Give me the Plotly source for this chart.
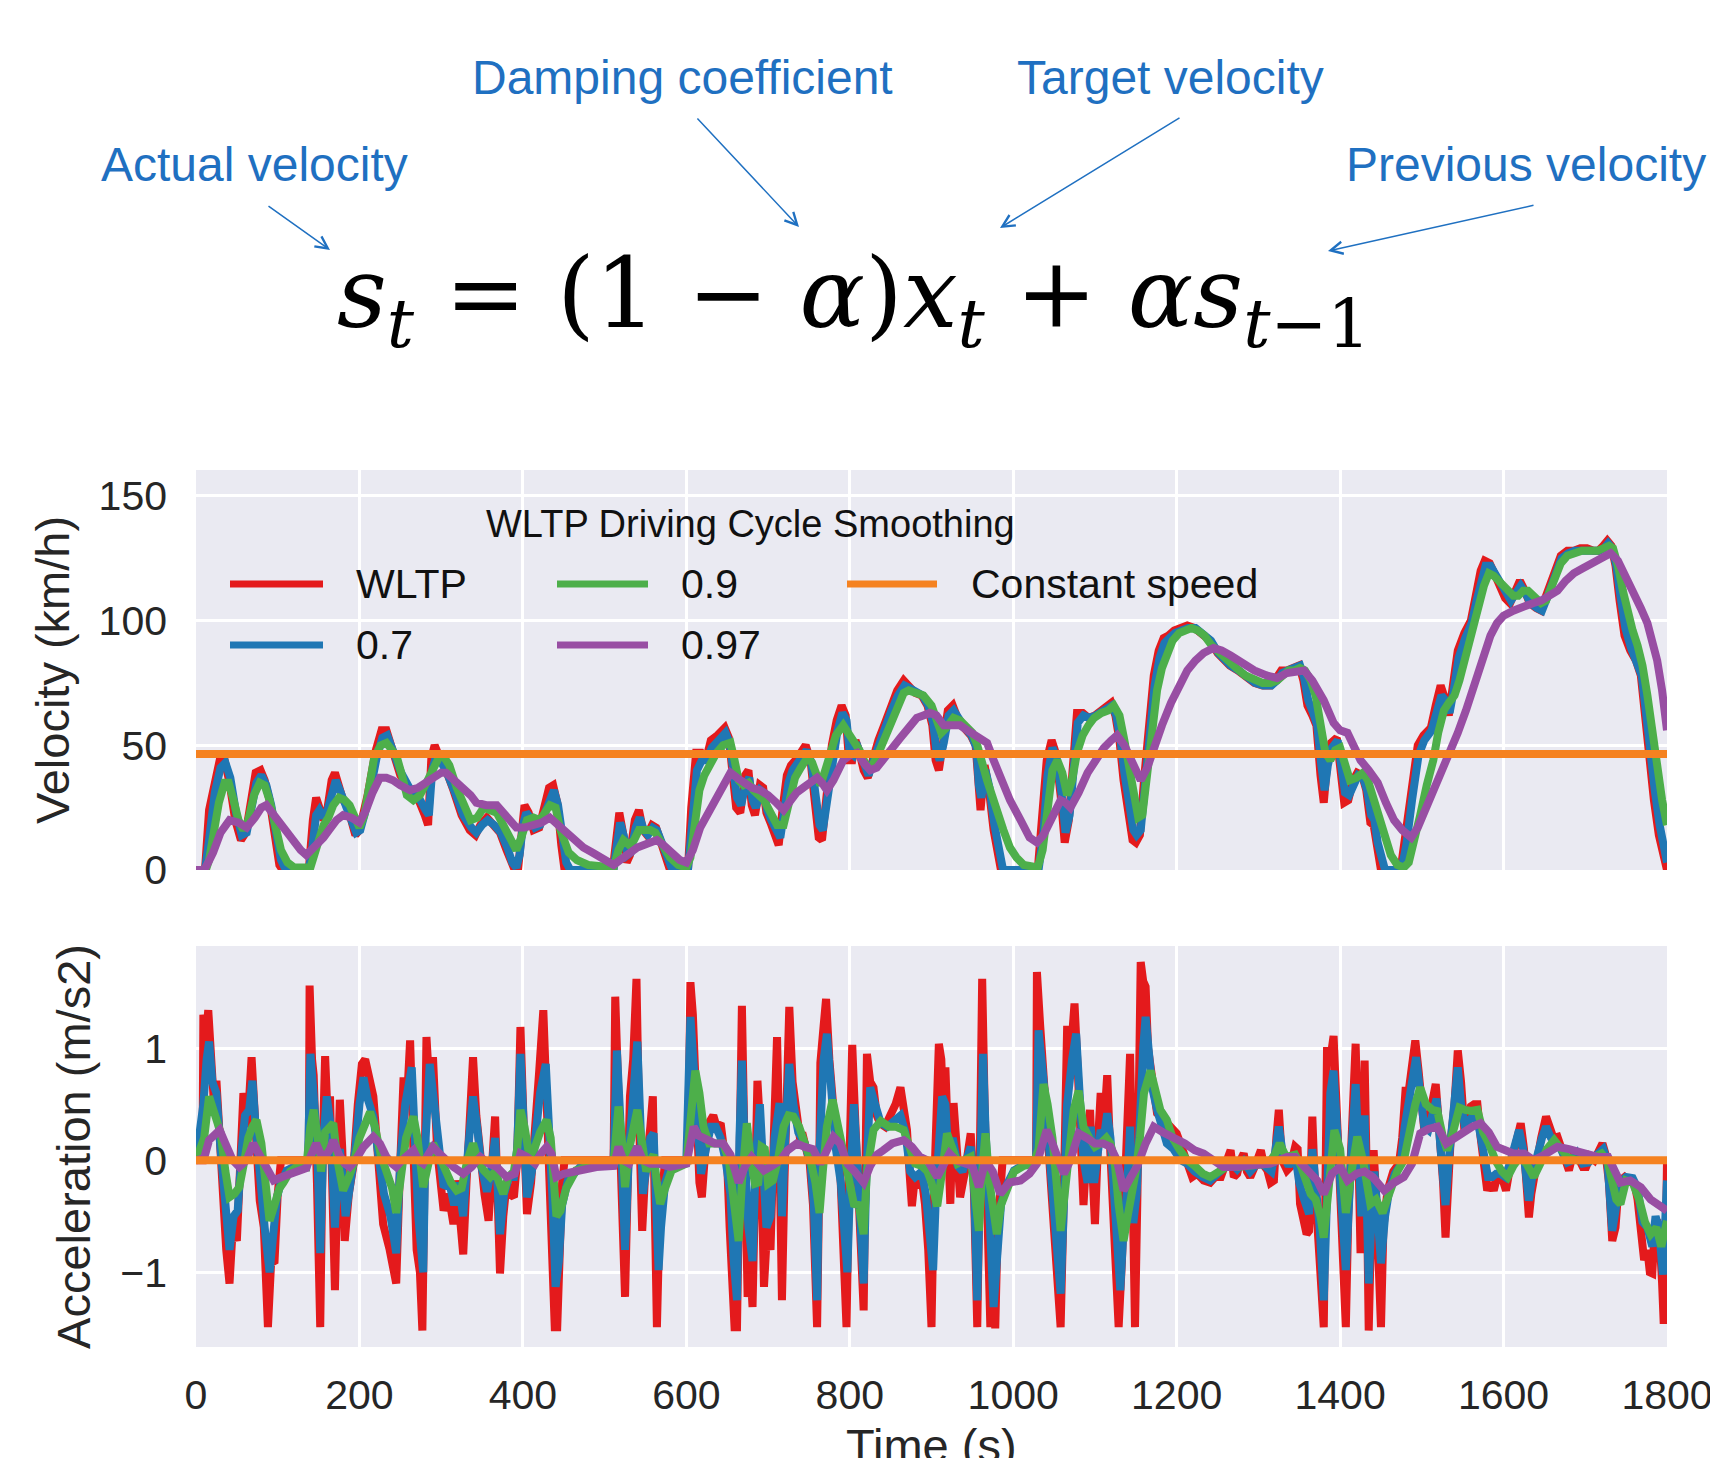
import plotly.graph_objects as go

W, H = 1710, 1458

# ---------------- data ----------------
time_ticks = [0, 200, 400, 600, 800, 1000, 1200, 1400, 1600, 1800]
vel_ticks = [0, 50, 100, 150]
acc_ticks = [-1, 0, 1]
acc_ticklabels = ["\u22121", "0", "1"]

series_names = ["WLTP", "0.7", "0.9", "0.97"]
series_colors = ["#E41A1C", "#1F77B4", "#4DAF4A", "#984EA3"]
const_name = "Constant speed"
const_color = "#F58220"
constant_speed = 46.5     # km/h
constant_acc = 0.0        # m/s2
time_span = [0, 1800]

# velocity (time s, km/h)
vel_wltp = [(0,0),(11,0),(16,24),(22,35),(29,44),(35,44),(41,35),(48,20),(55,12),(61,15),(67,28),(73,39),(79,40),(84,36),(90,28),(96,13),(102,2),(106,0),
    (138,0),(143,20),(147,29),(151,25),(156,20),(161,25),(166,36),(170,39),(175,32),(180,28),(185,26),(190,20),(195,14),(200,16),(210,30),(220,48),(227,56),(233,56),
    (240,48),(250,38),(260,33),(270,30),(280,22),(284,18),(288,45),(292,50),(297,46),(305,41),(315,32),(325,22),(335,16),(342,14),(348,18),(356,21),(364,18),(372,15),
    (380,8),(386,2),(390,0),(394,0),(398,18),(402,26),(407,23),(413,16),(420,17),(426,24),(432,33),(437,34),(442,27),(447,10),(451,0),
    (510,0),(514,14),(518,23),(523,14),(527,3),(531,6),(537,20),(542,24),(547,16),(552,14),(558,18),(563,17),(570,10),(577,2),(580,0),
    (602,0),(606,25),(612,47),(618,47),(624,44),(630,52),(638,54),(647,57),(652,53),(657,40),(661,25),(666,23),(672,38),(676,40),(680,26),(684,22),(690,34),(694,33),
    (698,23),(703,19),(710,13),(713,10),(718,25),(723,38),(728,42),(736,45),(746,50),(752,44),(757,28),(762,13),(766,12),(772,30),(778,50),(784,60),(790,66),(795,62),
    (799,44),(803,44),(807,52),(812,47),(817,40),(822,37),(828,45),(835,52),(842,58),(850,66),(858,72),(866,76),(872,74),(880,71),(888,70),(895,66),(901,58),(905,44),
    (909,40),(914,52),(920,64),(926,66),(933,60),(940,57),(948,54),(954,50),(957,30),(960,24),(965,42),(970,33),(976,16),(981,5),(985,0),
    (1030,0),(1036,20),(1041,44),(1047,52),(1052,47),(1058,30),(1063,11),(1068,20),(1073,48),(1078,63),(1085,63),(1092,61),(1100,62),(1108,64),(1114,65),(1120,67),
    (1125,62),(1130,52),(1135,36),(1140,24),(1146,12),(1150,11),(1155,14),(1160,36),(1166,60),(1172,78),(1178,88),(1184,93),(1190,94),(1197,96),(1205,97),(1213,98),
    (1222,97),(1231,95),(1241,92),(1250,87),(1256,85),(1265,82),(1275,80),(1285,77),(1295,75),(1305,74),(1315,74),(1322,77),(1328,80),(1335,80),(1342,81),(1350,82),
    (1355,76),(1360,66),(1366,62),(1371,58),(1376,38),(1380,27),(1384,42),(1389,51),(1396,53),(1401,40),(1405,27),(1410,28),(1416,36),(1421,39),(1427,38),(1432,32),
    (1437,19),(1441,18),(1445,8),(1450,0),(1474,0),(1480,14),(1487,32),(1495,50),(1502,54),(1511,57),(1517,66),(1523,74),(1528,69),(1533,62),(1538,74),(1544,88),
    (1552,95),(1560,100),(1566,110),(1572,120),(1577,124),(1583,123),(1590,118),(1596,113),(1602,109),(1608,107),(1614,112),(1620,116),(1626,112),(1632,107),
    (1640,105),(1646,104),(1652,110),(1658,116),(1664,122),(1670,126),(1678,128),(1686,128),(1694,129),(1702,129),(1710,128),(1716,128),(1722,130),(1727,132),
    (1732,130),(1737,122),(1742,108),(1748,94),(1755,88),(1762,84),(1768,78),(1773,62),(1778,44),(1784,28),(1790,14),(1795,6),(1800,0)]

vel_a07 = [(0,0),(11,0),(14,7),(18,20),(23,31),(30,41),(36,43),(42,37),(49,23),(56,14),(62,15),(68,25),(74,35),(80,38),(86,34),(92,26),(98,14),(104,4),(110,0),
    (138,0),(142,8),(147,22),(151,24),(156,21),(161,24),(167,33),(171,36),(176,32),(181,28),(186,25),(191,20),(196,15),(201,16),(211,28),(221,45),(228,53),(234,54),
    (241,48),(251,39),(261,33),(271,30),(281,24),(285,22),(289,40),(294,46),(299,44),(307,39),(317,31),(327,22),(337,17),(343,15),(350,18),(357,20),(365,18),(373,15),
    (381,9),(387,3),(392,1),(396,6),(400,18),(404,23),(409,21),(415,17),(421,18),(427,23),(433,30),(438,32),(443,26),(448,12),(453,3),(458,0),
    (511,0),(515,10),(519,19),(524,13),(528,6),(532,7),(538,17),(543,21),(548,16),(553,14),(559,17),(564,16),(571,10),(578,3),(583,0),
    (602,0),(607,17),(613,40),(619,44),(625,44),(631,49),(639,52),(648,55),(653,51),(658,40),(662,29),(667,26),(673,35),(677,37),(681,28),(685,25),(691,32),(695,31),
    (699,24),(704,20),(711,15),(715,13),(720,24),(725,35),(730,40),(738,44),(747,48),(753,43),(758,31),(763,18),(767,16),(773,29),(779,46),(785,56),(791,63),(796,60),
    (800,47),(804,46),(808,51),(813,47),(818,41),(823,38),(829,44),(836,51),(843,57),(851,64),(859,70),(867,74),(873,73),(881,71),(889,70),(896,66),(902,59),(906,48),
    (910,44),(915,51),(921,62),(927,64),(934,60),(941,57),(949,54),(955,49),(958,34),(961,29),(966,40),(971,33),(977,18),(982,7),(987,1),(990,0),
    (1031,0),(1037,15),(1042,38),(1048,49),(1053,45),(1059,31),(1064,15),(1069,22),(1074,44),(1079,59),(1086,62),(1093,61),(1101,62),(1109,64),(1115,65),(1121,66),
    (1126,62),(1131,53),(1136,39),(1141,27),(1147,16),(1151,14),(1156,16),(1161,33),(1167,55),(1173,74),(1179,85),(1185,91),(1191,93),(1198,95),(1206,96),(1214,97),
    (1223,97),(1232,95),(1242,92),(1251,87),(1257,85),(1266,82),(1276,80),(1286,77),(1296,75),(1306,74),(1316,74),(1323,76),(1329,79),(1336,80),(1343,81),(1351,82),
    (1356,77),(1361,68),(1367,63),(1372,58),(1377,42),(1381,32),(1385,42),(1390,49),(1397,52),(1402,42),(1406,31),(1411,30),(1417,35),(1422,38),(1428,37),(1433,32),
    (1438,22),(1442,20),(1446,11),(1451,3),(1455,0),(1475,0),(1481,10),(1488,28),(1496,46),(1503,52),(1512,56),(1518,63),(1524,70),(1529,68),(1534,63),(1539,72),
    (1545,85),(1553,93),(1561,99),(1567,108),(1573,117),(1578,122),(1584,122),(1591,118),(1597,114),(1603,110),(1609,108),(1615,111),(1621,114),(1627,111),
    (1633,107),(1641,105),(1647,104),(1653,109),(1659,115),(1665,120),(1671,125),(1679,127),(1687,128),(1695,128),(1703,128),(1711,128),(1717,128),(1723,129),
    (1728,131),(1733,129),(1738,122),(1743,110),(1749,97),(1756,89),(1763,84),(1769,78),(1774,64),(1779,48),(1785,32),(1791,18),(1796,8),(1800,3)]

vel_a09 = [(0,0),(12,0),(16,4),(21,14),(28,27),(35,35),(40,35),(46,28),(52,20),(58,16),(64,20),(71,30),(78,35),(84,34),(90,28),(97,18),(104,8),(112,3),(120,1),
    (140,1),(145,6),(150,13),(156,18),(162,21),(168,26),(175,29),(182,28),(188,26),(194,22),(200,17),(206,22),(212,36),(218,45),(226,50),(233,51),(240,48),(246,45),
    (252,38),(258,30),(266,28),(274,30),(282,35),(290,41),(297,45),(302,46),(310,42),(319,33),(328,26),(336,20),(344,21),(352,25),(360,24),(368,23),(376,18),(384,13),
    (392,8),(398,13),(405,20),(413,21),(421,20),(427,23),(433,26),(440,25),(446,16),(456,7),(466,4),(480,2),(500,1),(511,1),(517,8),(523,12),(530,10),(536,12),
    (542,16),(549,16),(556,16),(562,15),(570,10),(580,5),(590,2),(600,1),(605,5),(610,20),(616,32),(622,38),(630,43),(637,47),(645,50),(654,51),(659,44),(664,36),
    (670,34),(676,35),(682,32),(688,30),(695,28),(703,23),(711,18),(719,18),(726,28),(733,37),(740,41),(748,45),(754,43),(760,36),(764,34),(770,40),(776,47),
    (783,54),(792,58),(798,55),(805,51),(812,48),(820,42),(826,41),(834,46),(842,52),(850,59),(858,66),(866,71),(872,72),(880,71),(890,70),(900,66),(907,60),
    (912,55),(918,57),(927,61),(935,60),(943,57),(950,55),(956,50),(962,42),(968,36),(974,30),(980,23),(988,16),(996,9),(1004,5),(1013,2),(1030,1),(1036,8),
    (1042,24),(1048,40),(1054,44),(1060,39),(1066,30),(1072,36),(1078,47),(1085,54),(1092,58),(1099,61),(1108,63),(1116,64),(1123,66),(1130,62),(1136,52),
    (1142,40),(1148,28),(1153,21),(1158,22),(1164,38),(1170,58),(1176,72),(1182,81),(1188,87),(1195,92),(1203,95),(1210,96),(1218,97),(1226,96),(1234,94),
    (1243,90),(1252,87),(1262,84),(1273,81),(1284,78),(1295,76),(1305,75),(1315,75),(1323,76),(1330,78),(1337,80),(1344,80),(1351,81),(1357,80),(1364,76),
    (1370,70),(1376,58),(1382,47),(1388,44),(1394,48),(1400,49),(1406,42),(1412,36),(1420,37),(1428,39),(1434,36),(1440,30),(1447,22),(1454,14),(1462,6),
    (1470,2),(1478,1),(1484,3),(1490,10),(1498,22),(1506,34),(1514,44),(1520,55),(1527,64),(1533,67),(1540,70),(1546,76),(1552,84),(1558,92),(1564,99),
    (1570,108),(1576,114),(1582,119),(1588,118),(1594,116),(1600,114),(1606,112),(1612,110),(1618,110),(1624,112),(1630,112),(1638,109),(1646,107),(1652,108),
    (1658,113),(1664,119),(1670,123),(1678,126),(1686,127),(1696,128),(1706,128),(1715,128),(1722,129),(1729,130),(1734,129),(1740,122),(1746,112),(1752,103),
    (1758,96),(1764,90),(1770,82),(1776,70),(1782,54),(1788,40),(1794,28),(1800,18)]

vel_a097 = [(0,0),(10,0),(15,3),(21,7),(30,15),(41,20),(52,19),(62,17),(72,21),(80,25),(86,26),(95,22),(104,18),(111,15),(120,11),(128,8),(135,6),(142,8),
    (150,11),(156,13),(165,17),(172,20),(180,22),(190,21),(200,19),(208,24),(216,31),(225,37),(233,37),(241,36),(250,34),(262,32),(272,33),(282,35),(292,37),
    (300,39),(306,39),(316,36),(327,33),(336,30),(343,27),(355,26),(368,26),(380,22),(392,17),(402,17),(413,18),(423,19),(433,21),(443,18),(454,15),(464,12),
    (474,9),(485,7),(495,5),(505,3),(511,2),(519,4),(527,6),(534,7),(540,9),(548,10),(556,11),(564,12),(572,10),(584,6),(592,4),(600,3),(608,8),(617,17),
    (627,23),(637,28),(646,34),(654,39),(662,37),(670,35),(680,33),(690,32),(700,30),(710,27),(719,24),(728,28),(735,31),(743,33),(752,35),(760,37),(766,35),
    (772,32),(780,36),(787,41),(792,44),(800,46),(809,47),(817,43),(825,40),(833,41),(841,44),(850,48),(862,53),(872,57),(882,61),(890,62),(898,63),(906,62),
    (915,58),(925,58),(935,58),(944,56),(952,54),(960,52),(968,51),(976,44),(984,37),(996,28),(1009,20),(1020,13),(1029,11),(1037,14),(1046,20),(1052,24),
    (1058,28),(1064,27),(1070,25),(1080,31),(1091,39),(1101,44),(1111,49),(1120,52),(1127,54),(1136,50),(1144,44),(1150,40),(1156,36),(1164,41),(1172,49),
    (1182,58),(1193,67),(1203,74),(1213,80),(1223,84),(1233,87),(1245,89),(1255,88),(1266,86),(1280,83),(1295,80),(1310,78),(1323,77),(1335,79),(1347,80),
    (1356,80),(1366,76),(1374,72),(1380,68),(1392,59),(1400,56),(1409,55),(1417,50),(1425,44),(1435,40),(1446,35),(1456,27),(1466,20),(1476,16),(1487,13),
    (1495,17),(1503,23),(1513,31),(1523,39),(1533,47),(1544,55),(1554,64),(1564,74),(1574,84),(1584,94),(1592,99),(1600,102),(1612,104),(1625,106),(1636,107),
    (1646,108),(1656,110),(1666,112),(1676,116),(1686,119),(1697,121),(1707,123),(1719,125),(1731,127),(1740,124),(1748,119),(1758,112),(1768,105),(1776,99),
    (1782,92),(1788,84),(1794,72),(1800,56)]

# acceleration (time s, m/s2)
acc_wltp = [(0,0),(8,0),(9,1.30),(12,1.10),(15,1.34),(18,0.9),(22,0.5),(25,0.71),(29,0.2),(33,-0.4),(37,-0.8),(41,-1.10),(45,-0.6),(50,-0.72),(54,0.1),(58,0.60),
    (63,0.3),(68,0.92),(72,0.4),(78,-0.36),(83,-0.6),(88,-1.49),(92,-0.9),(96,-0.92),(100,-0.3),(104,0),(138,0),(139,1.56),(142,0.9),(144,0.76),(148,-0.2),
    (152,-1.49),(155,0.1),(158,0.93),(161,0.4),(164,0.57),(167,-0.3),(170,-1.16),(173,-0.2),(176,0.54),(179,0.1),(182,-0.72),(187,-0.3),(193,-0.03),(198,0.5),
    (203,0.86),(207,0.9),(212,0.7),(217,0.57),(222,0.1),(229,-0.57),(237,-0.8),(245,-1.10),(249,-0.2),(254,0.74),(258,0.5),(262,1.07),(266,0.1),(270,-0.80),
    (274,-1.0),(277,-1.52),(279,-0.5),(282,1.10),(286,0.6),(290,0.92),(295,0.1),(303,-0.45),(309,-0.3),(315,-0.57),(319,-0.18),(323,-0.5),(327,-0.84),(331,-0.2),
    (335,0.3),(339,0.92),(343,0.4),(348,-0.03),(353,-0.3),(358,-0.54),(362,0),(366,0.39),(369,-0.3),(372,-1.01),(376,-0.5),(380,-0.21),(384,-0.3),(389,-0.33),
    (393,0),(397,1.19),(401,0.3),(405,-0.48),(410,-0.2),(415,0.42),(420,0.8),(425,1.34),(429,0.6),(433,-0.33),(436,-0.9),(439,-1.49),(442,-1.49),(445,-0.6),
    (448,-0.2),(451,0),(511,0),(513,1.46),(517,0.5),(521,-0.4),(525,-1.22),(528,-0.3),(531,0.57),(535,0.9),(539,1.62),(542,0.4),(546,-0.63),(549,-0.2),(552,-0.03),
    (556,0.3),(559,0.57),(561,-0.5),(564,-1.49),(567,-0.6),(571,-0.2),(574,0),(602,0),(605,1.59),(608,1.3),(611,0.6),(613,0.27),(616,-0.2),(619,-0.33),(622,0.1),
    (625,0.27),(629,0.35),(633,0.40),(637,0.3),(642,0.33),(646,0.1),(650,-0.03),(653,-0.6),(656,-1.13),(659,-1.49),(662,-1.49),(665,0.3),(668,1.38),(671,0.2),
    (675,-1.22),(678,-0.9),(681,-1.31),(684,-0.3),(687,0.71),(691,0.2),(695,-1.13),(699,-0.6),(703,-0.80),(707,0.2),(711,1.10),(714,0.1),(717,-1.25),(720,-0.2),
    (723,0.8),(726,1.37),(730,0.7),(735,0.33),(739,0.2),(743,0.21),(747,0.1),(751,-0.03),(755,-0.4),(758,-1.2),(760,-1.49),(762,-0.5),(764,0.87),(768,1.2),
    (771,1.44),(775,0.9),(778,0.57),(783,0.2),(788,-0.03),(792,-0.6),(796,-1.49),(799,-0.2),(803,1.03),(807,0.3),(811,-0.33),(814,-0.8),(817,-1.34),(819,-0.2),
    (821,0.95),(825,0.7),(829,0.65),(833,0.4),(837,0.33),(843,0.3),(850,0.39),(856,0.5),(862,0.65),(866,0.4),(870,0.27),(873,-0.1),(876,-0.41),(879,-0.2),
    (882,-0.21),(887,-0.1),(892,-0.39),(896,-0.8),(900,-1.49),(903,-0.3),(906,0.2),(909,1.04),(912,0.9),(914,0.5),(917,0.83),(920,0.2),(923,-0.39),(925,0.1),
    (927,0.51),(931,0.1),(935,-0.33),(941,-0.1),(948,0.24),(952,-0.3),(956,-1.49),(958,-0.6),(960,0.3),(962,1.62),(965,0.5),(968,-0.6),(972,-1.49),(975,-0.8),
    (978,-1.50),(981,-0.6),(984,-0.33),(987,0),(1028,0),(1029,1.68),(1033,1.2),(1037,0.8),(1041,0.27),(1046,-0.3),(1050,-0.7),(1054,-1.1),(1058,-1.49),(1061,-0.6),
    (1063,0.4),(1066,1.20),(1070,0.9),(1075,1.40),(1079,0.8),(1083,0.2),(1086,-0.4),(1090,0.1),(1094,0.45),(1097,-0.1),(1100,-0.57),(1104,0.2),(1107,0.60),
    (1111,0.3),(1115,0.76),(1118,0.2),(1121,-0.33),(1125,-0.8),(1129,-1.49),(1133,-0.9),(1137,-0.03),(1140,0.5),(1143,0.95),(1146,-0.2),(1149,-1.49),(1152,-0.3),
    (1154,1.2),(1156,1.77),(1159,1.6),(1162,1.55),(1165,1.0),(1168,0.86),(1172,0.6),(1176,0.42),(1182,0.38),(1188,0.33),(1194,0.28),(1200,0.24),(1207,0.1),
    (1213,-0.03),(1219,-0.15),(1225,-0.12),(1233,-0.18),(1241,-0.2),(1247,-0.15),(1254,-0.15),(1260,0),(1266,0.09),(1270,-0.15),(1274,-0.12),(1278,0),(1282,0.06),
    (1286,-0.1),(1290,-0.15),(1296,-0.05),(1303,0.09),(1307,-0.05),(1311,-0.09),(1315,-0.2),(1319,-0.18),(1322,0.2),(1325,0.45),(1328,0.1),(1331,-0.03),
    (1335,-0.09),(1339,-0.06),(1345,0.12),(1348,0.1),(1351,-0.39),(1355,-0.5),(1359,-0.66),(1362,-0.63),(1364,0.1),(1366,0.39),(1369,-0.2),(1372,-0.51),
    (1376,-0.9),(1380,-1.49),(1382,-0.3),(1384,1.01),(1388,0.9),(1392,1.11),(1395,0.6),(1399,-0.03),(1403,-0.8),(1407,-1.49),(1410,-0.5),(1413,0.12),(1416,0.6),
    (1419,1.04),(1422,0.2),(1425,-0.83),(1427,-0.2),(1430,0.89),(1432,0.1),(1435,-1.52),(1438,-0.6),(1441,0.09),(1444,-0.3),(1447,-0.9),(1450,-1.49),(1453,-0.6),
    (1458,-0.27),(1465,-0.1),(1472,-0.03),(1476,0.2),(1480,0.62),(1484,0.62),(1488,0.8),(1492,1.07),(1496,0.8),(1500,0.4),(1503,0.27),(1507,0.3),(1512,0.5),
    (1517,0.68),(1520,0.4),(1523,0.12),(1526,-0.2),(1529,-0.69),(1532,-0.2),(1535,0.15),(1540,0.5),(1544,0.98),(1548,0.7),(1552,0.27),(1556,0.35),(1560,0.48),
    (1564,0.5),(1568,0.5),(1572,0.2),(1576,-0.1),(1580,-0.27),(1584,-0.2),(1588,-0.27),(1592,-0.15),(1596,-0.15),(1600,-0.2),(1603,-0.27),(1607,-0.1),(1613,0.12),
    (1617,0.2),(1621,0.33),(1625,0.1),(1628,-0.2),(1631,-0.51),(1634,-0.3),(1638,-0.1),(1641,0.03),(1646,0.2),(1652,0.39),(1656,0.3),(1661,0.2),(1666,0.21),
    (1672,0.1),(1676,0.0),(1680,-0.09),(1684,0.03),(1688,0.09),(1693,0.0),(1697,-0.06),(1701,-0.06),(1706,0.03),(1711,0.0),(1716,0.09),(1721,0.15),(1725,0.05),
    (1729,-0.2),(1733,-0.72),(1737,-0.6),(1740,-0.3),(1743,-0.18),(1748,-0.15),(1752,-0.18),(1756,-0.18),(1760,-0.2),(1764,-0.35),(1768,-0.6),(1772,-0.89),
    (1776,-0.8),(1779,-1.0),(1782,-1.01),(1785,-0.6),(1788,-0.53),(1791,-0.7),(1794,-1.1),(1796,-1.46),(1798,-1.1),(1800,0.0)]

acc_a07 = [(0,0),(9,0.5),(13,0.9),(16,1.06),(20,0.7),(25,0.6),(30,0.1),(36,-0.5),(41,-0.80),(46,-0.5),(51,-0.45),(56,0.1),(60,0.4),(65,0.45),(69,0.71),(73,0.3),
    (78,-0.2),(84,-0.6),(90,-1.0),(94,-0.6),(99,-0.33),(104,-0.2),(111,-0.09),(125,-0.04),(137,-0.01),(140,0.95),(144,0.6),(148,0.2),(152,-0.83),(156,0.2),
    (160,0.57),(164,0.35),(167,-0.1),(170,-0.6),(174,0),(176,0.1),(180,-0.2),(183,-0.5),(189,-0.2),(195,0.1),(200,0.5),(205,0.74),(210,0.55),(217,0.39),(224,0.0),
    (230,-0.3),(238,-0.5),(245,-0.83),(250,0.0),(256,0.5),(264,0.83),(268,0.1),(272,-0.5),(278,-1.0),(281,0.2),(286,0.86),(290,0.6),(296,0.2),(303,-0.24),
    (310,-0.2),(316,-0.4),(321,-0.2),(327,-0.5),(333,0.1),(339,0.57),(344,0.3),(349,-0.05),(356,-0.28),(361,-0.1),(366,0.2),(372,-0.66),(377,-0.3),(383,-0.15),
    (389,-0.15),(393,0.1),(397,0.95),(401,0.4),(405,-0.33),(411,-0.1),(416,0.3),(421,0.6),(428,0.86),(432,0.4),(436,-0.3),(440,-1.13),(444,-0.9),(448,-0.4),
    (455,-0.18),(470,-0.06),(490,-0.02),(511,-0.01),(515,0.98),(519,0.4),(525,-0.8),(530,0.1),(536,0.6),(540,1.06),(544,0.3),(547,-0.3),(552,0.0),(556,0.2),
    (560,0.24),(563,-0.3),(566,-0.98),(569,-0.6),(574,-0.2),(580,-0.05),(600,-0.01),(605,1.28),(610,0.7),(614,0.1),(618,-0.12),(624,0.1),(630,0.3),(636,0.3),
    (642,0.2),(648,0.0),(654,-0.3),(658,-0.9),(662,-1.25),(665,0.2),(668,0.89),(672,0.0),(676,-0.6),(681,-0.9),(685,0.0),(690,0.5),(694,-0.2),(698,-0.6),
    (703,-0.5),(708,0.2),(714,0.51),(717,-0.5),(721,0.2),(726,0.86),(731,0.5),(737,0.25),(745,0.15),(752,-0.03),(756,-0.4),(760,-1.25),(763,0.1),(768,0.9),
    (772,1.13),(777,0.6),(783,0.1),(789,-0.2),(793,-0.6),(797,-1.0),(800,-0.3),(805,0.5),(809,0.0),(813,-0.5),(817,-1.1),(820,-0.2),(825,0.65),(831,0.5),
    (838,0.33),(846,0.3),(854,0.35),(862,0.4),(868,0.25),(874,-0.1),(880,-0.15),(888,-0.1),(893,-0.3),(898,-0.7),(902,-0.98),(906,-0.2),(910,0.4),(913,0.57),
    (917,0.5),(921,0.0),(926,0.2),(932,-0.05),(938,-0.1),(944,0.05),(948,0.12),(952,-0.2),(956,-1.25),(959,-0.3),(963,0.95),(966,0.3),(970,-0.5),(976,-1.31),
    (980,-0.9),(985,-0.4),(990,-0.25),(1001,-0.09),(1015,-0.03),(1028,-0.01),(1031,1.16),(1035,0.9),(1040,0.5),(1046,-0.1),(1052,-0.6),(1058,-1.19),(1062,-0.4),
    (1066,0.5),(1072,0.9),(1077,1.13),(1082,0.5),(1086,0.0),(1091,-0.2),(1095,0.3),(1099,-0.2),(1103,0.1),(1107,0.27),(1111,0.2),(1115,0.42),(1119,0.2),
    (1123,-0.2),(1127,-0.6),(1131,-1.16),(1135,-0.6),(1139,-0.3),(1143,0.3),(1147,-0.56),(1151,-0.3),(1155,0.6),(1159,1.0),(1162,1.28),(1166,0.9),(1170,0.65),
    (1176,0.45),(1182,0.3),(1188,0.15),(1196,0.1),(1205,0.0),(1213,-0.03),(1222,-0.1),(1232,-0.15),(1241,-0.18),(1250,-0.12),(1258,-0.06),(1266,-0.02),
    (1274,-0.08),(1282,-0.01),(1290,-0.1),(1300,-0.02),(1308,-0.05),(1316,-0.1),(1320,0.05),(1325,0.3),(1330,0.05),(1337,-0.05),(1345,0.05),(1350,-0.2),
    (1356,-0.35),(1362,-0.48),(1366,0.1),(1370,-0.2),(1375,-0.6),(1380,-1.25),(1384,-0.1),(1388,0.6),(1392,0.80),(1396,0.4),(1401,-0.3),(1407,-0.98),(1410,-0.4),
    (1414,0.1),(1419,0.68),(1423,0.1),(1426,-0.5),(1430,0.4),(1435,-1.1),(1439,-0.4),(1442,-0.1),(1446,-0.5),(1450,-0.92),(1455,-0.5),(1460,-0.27),(1467,-0.12),
    (1474,-0.04),(1479,0.3),(1484,0.53),(1489,0.7),(1493,0.92),(1498,0.6),(1503,0.3),(1508,0.27),(1513,0.4),(1518,0.55),(1523,0.1),(1529,-0.40),(1533,0.0),
    (1539,0.4),(1544,0.83),(1548,0.5),(1552,0.33),(1557,0.35),(1562,0.40),(1566,0.42),(1571,0.25),(1576,0.0),(1581,-0.15),(1586,-0.15),(1591,-0.12),(1596,-0.12),
    (1602,-0.15),(1608,-0.02),(1614,0.12),(1619,0.27),(1624,0.1),(1628,-0.1),(1631,-0.36),(1636,-0.1),(1642,0.1),(1647,0.2),(1652,0.30),(1658,0.2),(1664,0.15),
    (1670,0.1),(1678,-0.02),(1684,0.0),(1690,0.06),(1697,-0.03),(1704,-0.02),(1711,0.02),(1717,0.06),(1722,0.1),(1727,0.0),(1733,-0.63),(1737,-0.45),(1742,-0.2),
    (1750,-0.15),(1758,-0.16),(1764,-0.25),(1770,-0.55),(1776,-0.6),(1782,-0.77),(1786,-0.5),(1790,-0.6),(1795,-1.02),(1800,-0.18)]

acc_a09 = [(0,0),(10,0.2),(16,0.57),(22,0.45),(30,0.25),(36,-0.1),(41,-0.33),(47,-0.3),(53,-0.24),(58,-0.05),(64,0.2),(69,0.3),(74,0.36),(80,0.15),(86,-0.3),
    (90,-0.54),(96,-0.4),(102,-0.25),(107,-0.2),(115,-0.1),(125,-0.05),(135,-0.06),(140,0.3),(144,0.45),(149,0.2),(153,-0.1),(158,0.25),(163,0.3),(168,0.33),
    (173,0.0),(180,-0.27),(187,-0.15),(193,-0.03),(200,0.2),(207,0.35),(213,0.43),(219,0.3),(226,0.05),(233,-0.1),(240,-0.25),(245,-0.47),(250,-0.2),(257,0.2),
    (266,0.39),(271,0.2),(278,-0.24),(284,0.0),(290,0.15),(297,0.05),(305,-0.1),(312,-0.2),(319,-0.27),(325,-0.25),(332,0.0),(339,0.15),(345,0.0),(352,-0.09),
    (360,-0.15),(366,-0.1),(371,-0.2),(376,-0.3),(382,-0.15),(389,-0.1),(393,0.1),(397,0.45),(402,0.3),(408,0.03),(414,0.1),(421,0.25),(429,0.36),(434,0.2),
    (438,-0.2),(441,-0.5),(446,-0.45),(453,-0.25),(465,-0.09),(490,-0.03),(511,-0.03),(517,0.48),(521,0.2),(525,-0.24),(530,0.1),(536,0.3),(540,0.45),(545,0.2),
    (551,-0.1),(556,0.0),(560,0.05),(564,-0.2),(568,-0.39),(574,-0.25),(582,-0.09),(600,-0.03),(605,0.4),(611,0.8),(616,0.6),(621,0.3),(628,0.15),(635,0.15),
    (645,0.15),(652,0.0),(658,-0.4),(664,-0.72),(668,-0.2),(674,0.33),(679,0.0),(684,-0.21),(688,-0.2),(692,0.12),(696,0.1),(700,-0.21),(706,-0.18),(712,0.0),
    (719,0.3),(725,0.4),(731,0.39),(738,0.3),(745,0.15),(752,0.0),(758,-0.2),(763,-0.47),(767,-0.1),(772,0.3),(779,0.54),(785,0.3),(791,0.09),(797,-0.1),
    (805,-0.39),(811,-0.4),(817,-0.66),(821,-0.1),(829,0.27),(838,0.35),(848,0.3),(856,0.3),(866,0.27),(873,0.1),(880,-0.03),(888,-0.05),(895,-0.1),(900,-0.2),
    (907,-0.41),(913,-0.1),(919,0.24),(926,0.1),(932,-0.03),(940,0.0),(948,0.03),(953,-0.3),(958,-0.63),(962,-0.1),(966,0.24),(971,-0.2),(976,-0.55),(980,-0.66),
    (985,-0.4),(991,-0.27),(1001,-0.1),(1013,-0.05),(1025,-0.03),(1031,0.1),(1037,0.68),(1042,0.5),(1048,0.2),(1053,-0.2),(1058,-0.63),(1063,-0.3),(1068,0.1),
    (1074,0.45),(1080,0.62),(1086,0.3),(1093,0.2),(1100,0.12),(1107,0.15),(1114,0.2),(1119,0.15),(1124,0.0),(1129,-0.4),(1135,-0.72),(1140,-0.5),(1145,-0.3),
    (1150,-0.1),(1155,0.2),(1160,0.6),(1168,0.80),(1174,0.6),(1180,0.45),(1188,0.36),(1195,0.2),(1203,0.1),(1213,0.0),(1222,-0.05),(1232,-0.12),(1241,-0.15),
    (1252,-0.1),(1263,-0.05),(1275,-0.06),(1288,-0.05),(1300,-0.05),(1312,-0.03),(1320,0.05),(1326,0.15),(1334,0.03),(1345,0.05),(1352,-0.05),(1358,-0.2),
    (1364,-0.3),(1370,-0.35),(1376,-0.5),(1380,-0.69),(1385,-0.3),(1393,0.27),(1400,0.1),(1407,-0.47),(1414,-0.1),(1421,0.21),(1428,0.0),(1437,-0.39),
    (1444,-0.35),(1452,-0.47),(1460,-0.3),(1470,-0.1),(1478,0.0),(1486,0.3),(1492,0.5),(1498,0.65),(1505,0.5),(1513,0.45),(1519,0.44),(1526,0.2),(1531,0.09),
    (1538,0.25),(1546,0.47),(1553,0.45),(1560,0.44),(1568,0.45),(1575,0.25),(1582,0.15),(1590,0.0),(1598,-0.1),(1605,-0.15),(1612,-0.05),(1620,0.03),(1628,-0.03),
    (1637,-0.15),(1645,-0.03),(1653,0.1),(1662,0.18),(1670,0.1),(1678,0.03),(1690,0.0),(1700,0.03),(1712,0.03),(1720,0.06),(1727,0.0),(1733,-0.2),(1738,-0.35),
    (1743,-0.39),(1750,-0.18),(1758,-0.2),(1766,-0.35),(1773,-0.55),(1780,-0.66),(1787,-0.6),(1793,-0.77),(1800,-0.54)]

acc_a097 = [(0,0),(10,0.02),(16,0.18),(22,0.22),(29,0.27),(36,0.15),(45,0.0),(53,-0.06),(62,0.0),(70,0.15),(78,0.05),(86,-0.06),(95,-0.18),(105,-0.15),
    (118,-0.12),(135,-0.07),(141,0.05),(147,0.15),(153,0.05),(158,0.03),(164,0.1),(168,0.18),(175,0.05),(182,-0.03),(188,-0.06),(195,0.0),(205,0.12),(212,0.18),
    (217,0.21),(225,0.15),(233,0.03),(240,-0.03),(245,-0.06),(252,0.0),(258,0.05),(266,0.09),(272,0.0),(278,-0.03),(284,0.05),(290,0.12),(298,0.06),(306,0.0),
    (315,-0.06),(327,-0.12),(337,-0.06),(348,0.03),(358,-0.03),(368,-0.06),(380,-0.15),(390,-0.12),(397,0.06),(405,0.03),(415,-0.03),(422,0.06),(429,0.12),
    (435,0.06),(441,-0.15),(450,-0.12),(470,-0.09),(490,-0.06),(511,-0.05),(517,0.12),(523,0.0),(530,-0.03),(540,0.12),(547,0.0),(556,-0.03),(566,-0.03),
    (580,-0.06),(600,-0.03),(605,0.15),(609,0.30),(615,0.22),(625,0.18),(635,0.15),(645,0.15),(654,0.05),(664,-0.2),(672,-0.05),(680,0.03),(695,-0.09),
    (705,-0.05),(715,0.0),(724,0.09),(735,0.15),(745,0.12),(755,0.1),(764,-0.03),(772,0.1),(780,0.21),(788,0.15),(797,-0.03),(806,-0.1),(817,-0.2),(825,-0.05),
    (833,0.05),(841,0.09),(852,0.15),(866,0.18),(876,0.12),(886,0.03),(895,0.0),(907,-0.15),(915,-0.05),(922,0.06),(930,0.0),(940,-0.03),(950,-0.05),(958,-0.24),
    (966,0.0),(975,-0.1),(984,-0.30),(995,-0.2),(1009,-0.18),(1020,-0.12),(1029,-0.03),(1036,0.15),(1041,0.27),(1048,0.15),(1055,0.0),(1062,-0.12),(1070,0.0),
    (1080,0.24),(1090,0.2),(1100,0.15),(1110,0.15),(1119,0.12),(1127,0.0),(1135,-0.27),(1144,-0.15),(1152,-0.05),(1162,0.15),(1172,0.3),(1183,0.25),(1196,0.21),
    (1210,0.15),(1222,0.09),(1233,0.06),(1245,0.0),(1257,-0.06),(1270,-0.06),(1285,-0.05),(1300,-0.04),(1315,-0.03),(1325,0.0),(1335,0.03),(1345,0.03),
    (1353,-0.03),(1362,-0.09),(1372,-0.18),(1380,-0.30),(1390,-0.12),(1400,-0.06),(1409,-0.18),(1420,-0.12),(1430,-0.1),(1440,-0.15),(1454,-0.27),(1466,-0.2),
    (1478,-0.15),(1488,-0.03),(1498,0.24),(1508,0.28),(1519,0.30),(1530,0.15),(1540,0.2),(1552,0.27),(1562,0.3),(1572,0.33),(1582,0.25),(1592,0.12),(1600,0.09),
    (1612,0.06),(1625,0.06),(1637,0.0),(1650,0.05),(1666,0.12),(1680,0.1),(1699,0.06),(1715,0.03),(1728,0.03),(1735,-0.08),(1743,-0.2),(1755,-0.18),(1768,-0.24),
    (1780,-0.35),(1793,-0.42),(1800,-0.45)]

velocity_series = [vel_wltp, vel_a07, vel_a09, vel_a097]
accel_series = [acc_wltp, acc_a07, acc_a09, acc_a097]

# ---------------- figure ----------------
FONT = "Liberation Sans, Arial, sans-serif"
TXT = "#262626"
BLUE_NOTE = "#1F70C1"
LW = 8

def px(x):
    return x / W

def py(y):
    return 1 - y / H

fig = go.Figure()

for name, color, pts in zip(series_names, series_colors, velocity_series):
    fig.add_trace(go.Scatter(x=[p[0] for p in pts], y=[p[1] for p in pts], mode="lines", name=name,
                             line=dict(color=color, width=LW), xaxis="x", yaxis="y", showlegend=False))
fig.add_trace(go.Scatter(x=time_span, y=[constant_speed, constant_speed], mode="lines", name=const_name,
                         line=dict(color=const_color, width=LW), xaxis="x", yaxis="y", showlegend=False))

for name, color, pts in zip(series_names, series_colors, accel_series):
    fig.add_trace(go.Scatter(x=[p[0] for p in pts], y=[p[1] for p in pts], mode="lines", name=name,
                             line=dict(color=color, width=LW), xaxis="x2", yaxis="y2", showlegend=False))
fig.add_trace(go.Scatter(x=time_span, y=[constant_acc, constant_acc], mode="lines", name=const_name,
                         line=dict(color=const_color, width=LW), xaxis="x2", yaxis="y2", showlegend=False))

x_dom = [px(196), px(1667)]
axis_common = dict(showgrid=True, gridcolor="white", gridwidth=3, zeroline=False, showline=False,
                   ticks="", automargin=False, ticklabeloverflow="allow",
                   tickfont=dict(family=FONT, size=41, color=TXT))

fig.update_layout(
    width=W, height=H,
    margin=dict(l=0, r=0, t=0, b=0),
    paper_bgcolor="white", plot_bgcolor="#EAEAF2",
    showlegend=False,
    xaxis=dict(domain=x_dom, anchor="y", range=[0, 1800], tickvals=time_ticks, showticklabels=False, **axis_common),
    yaxis=dict(domain=[py(870), py(470)], anchor="x", range=[0, 160.4], tickvals=vel_ticks,
               ticklabelstandoff=28,
               title=dict(text="Velocity (km/h)", font=dict(family=FONT, size=47, color=TXT), standoff=14),
               **axis_common),
    xaxis2=dict(domain=x_dom, anchor="y2", range=[0, 1800], tickvals=time_ticks, matches="x",
                ticklabelstandoff=20, **axis_common),
    yaxis2=dict(domain=[py(1347), py(946)], anchor="x2", range=[-1.667, 1.913], tickvals=acc_ticks,
                ticktext=acc_ticklabels, ticklabelstandoff=28,
                title=dict(text="Acceleration (m/s2)", font=dict(family=FONT, size=47, color=TXT), standoff=14),
                **axis_common),
)

# ---------------- legend (drawn in matplotlib style, 3 columns) ----------------
shapes = []
annotations = []
legend_items = [  # (label, color, line x0, line x1, text x, row y)
    ("WLTP", series_colors[0], 230, 323, 354, 584),
    ("0.7", series_colors[1], 230, 323, 354, 645),
    ("0.9", series_colors[2], 557, 648, 679, 584),
    ("0.97", series_colors[3], 557, 648, 679, 645),
    (const_name, const_color, 847, 937, 969, 584),
]
for label, color, x0, x1, tx, yy in legend_items:
    shapes.append(dict(type="line", xref="paper", yref="paper", x0=px(x0), x1=px(x1), y0=py(yy), y1=py(yy),
                       line=dict(color=color, width=7)))
    annotations.append(dict(xref="paper", yref="paper", x=px(tx), y=py(yy), xanchor="left", yanchor="middle",
                            text=label, showarrow=False, font=dict(family=FONT, size=41, color="#111")))
annotations.append(dict(xref="paper", yref="paper", x=px(750), y=py(524), xanchor="center", yanchor="middle",
                        text="WLTP Driving Cycle Smoothing", showarrow=False,
                        font=dict(family=FONT, size=38, color="#111")))

# x-axis title of the lower panel (sits partly below the page edge, as in the original)
annotations.append(dict(xref="paper", yref="paper", x=px(931.5), y=py(1445), xanchor="center", yanchor="middle",
                        text="Time (s)", showarrow=False, font=dict(family=FONT, size=47, color=TXT)))

# ---------------- formula and explanatory notes ----------------
annotations.append(dict(xref="paper", yref="paper", x=px(854), y=py(300), xanchor="center", yanchor="middle",
                        text="<i>s</i><sub><i>t</i></sub> = (1 \u2212 <i>\u03b1</i>)<i>x</i><sub><i>t</i></sub> + <i>\u03b1s</i><sub><i>t</i>\u22121</sub>",
                        showarrow=False, font=dict(family="DejaVu Serif, serif", size=97, color="black")))

notes = [("Damping coefficient", 470, 78), ("Target velocity", 1015, 78),
         ("Actual velocity", 99, 164), ("Previous velocity", 1344, 164)]
for text, x, y in notes:
    annotations.append(dict(xref="paper", yref="paper", x=px(x), y=py(y), xanchor="left", yanchor="middle",
                            text=text, showarrow=False, font=dict(family=FONT, size=48, color=BLUE_NOTE)))

arrows = [((330, 250), (267, 205)), ((799, 227), (696, 117)), ((1000, 228), (1181, 117)), ((1328, 251), (1535, 205))]
for (hx, hy), (tx, ty) in arrows:
    annotations.append(dict(xref="paper", yref="paper", x=px(hx), y=py(hy), ax=tx - hx, ay=ty - hy,
                            axref="pixel", ayref="pixel", text="", showarrow=True, arrowhead=5,
                            arrowsize=1.6, arrowwidth=1.5, arrowcolor=BLUE_NOTE, standoff=0, startstandoff=0))

fig.update_layout(shapes=shapes, annotations=annotations)

fig.write_html("out.html")
